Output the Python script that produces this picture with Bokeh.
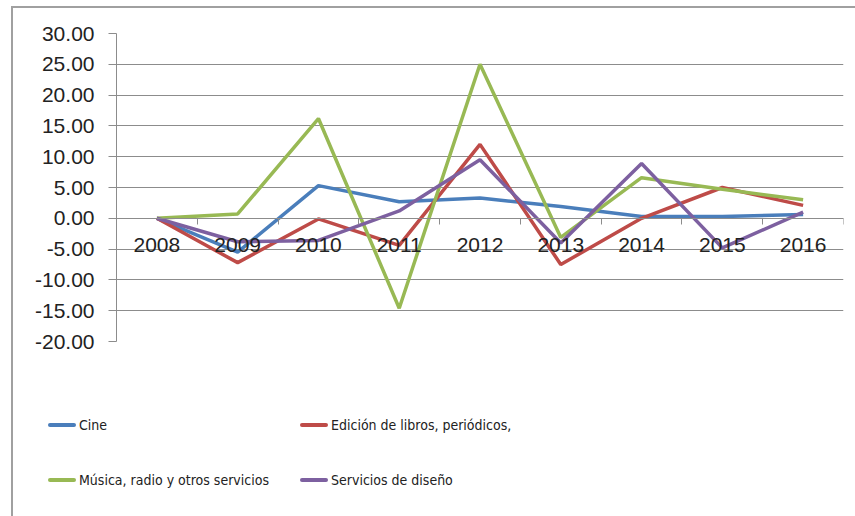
from bokeh.plotting import figure
from bokeh.layouts import column
from bokeh.models import (Range1d, LinearAxis, FixedTicker, NumeralTickFormatter, Div)
from bokeh.embed import file_html
from bokeh.resources import INLINE

years = ["2008", "2009", "2010", "2011", "2012", "2013", "2014", "2015", "2016"]
cine = [0.0, -5.5, 5.3, 2.7, 3.3, 1.9, 0.3, 0.3, 0.6]
edicion = [0.0, -7.2, -0.1, -4.4, 12.0, -7.5, 0.0, 5.0, 2.1]
musica = [0.0, 0.7, 16.2, -14.6, 25.0, -3.1, 6.6, 4.7, 3.0]
diseno = [0.0, -3.8, -3.6, 1.2, 9.5, -4.0, 8.9, -4.8, 1.0]

labels = ["Cine", "Edición de libros, periódicos,", "Música, radio y otros servicios", "Servicios de diseño"]
colors = ["#4A7EBB", "#BE4B48", "#98B954", "#7D60A0"]
series = [cine, edicion, musica, diseno]
y_ticks = [-20, -15, -10, -5, 0, 5, 10, 15, 20, 25, 30]

GRID = "#8c8c8c"
FONT = "Liberation Sans"

n = len(years)
xpos = [i + 0.5 for i in range(n)]          # band centres for each year
bounds = list(range(n + 1))                  # band boundaries

p = figure(x_range=Range1d(0, n), y_range=Range1d(-20, 30),
           width=842, height=403,
           min_border_left=103, min_border_right=12, min_border_top=25, min_border_bottom=70,
           output_backend="svg", toolbar_location=None, x_axis_type=None)
p.outline_line_color = None
p.background_fill_color = "white"
p.border_fill_color = "white"
p.xgrid.grid_line_color = None
p.ygrid.grid_line_color = GRID
p.ygrid.ticker = FixedTicker(ticks=y_ticks)

# y axis
ya = p.yaxis[0]
ya.ticker = FixedTicker(ticks=y_ticks)
ya.formatter = NumeralTickFormatter(format="0.00")
ya.axis_line_color = GRID
ya.major_tick_line_color = GRID
ya.major_tick_out = 8
ya.major_tick_in = 0
ya.minor_tick_line_color = None
ya.major_label_standoff = 14
ya.major_label_text_font = FONT
ya.major_label_text_font_size = "21px"
ya.major_label_text_color = "#222222"

# axis line with boundary ticks at y = 0
na = LinearAxis(ticker=FixedTicker(ticks=bounds), fixed_location=0)
na.axis_line_color = GRID
na.major_tick_line_color = GRID
na.major_tick_out = 6
na.major_tick_in = 0
na.minor_tick_line_color = None
na.major_label_text_font_size = "0px"
na.major_label_text_alpha = 0
na.major_label_standoff = 0
p.add_layout(na, "below")

# year labels at band centres
ca = LinearAxis(ticker=FixedTicker(ticks=xpos), fixed_location=0,
                major_label_overrides={x: y for x, y in zip(xpos, years)})
ca.axis_line_color = None
ca.major_tick_line_color = None
ca.minor_tick_line_color = None
ca.major_tick_out = 0
ca.major_tick_in = 0
ca.major_label_standoff = 20
ca.major_label_text_font = FONT
ca.major_label_text_font_size = "21px"
ca.major_label_text_color = "#222222"
p.add_layout(ca, "below")

for vals, col in zip(series, colors):
    p.line(x=xpos, y=vals, line_color=col, line_width=3.5)

# legend below the plot: two columns, two rows
slots = [(35, 4), (287, 4), (35, 59), (287, 59)]
items_html = ""
for lab, col, (lx, ty) in zip(labels, colors, slots):
    items_html += (
        f'<div style="position:absolute;left:{lx}px;top:{ty}px;height:20px;'
        f'display:flex;align-items:center;white-space:nowrap">'
        f'<span style="display:inline-block;width:28px;height:4px;background:{col};'
        f'border-radius:2px"></span>'
        f'<span style="margin-left:3px">{lab}</span></div>'
    )
legend_div = Div(
    text=(f'<div style="position:relative;width:842px;height:105px;'
          f"font-family:'DejaVu Sans Condensed','Liberation Sans Narrow','Liberation Sans',sans-serif;"
          f'font-size:14px;color:#222222">{items_html}</div>'),
    width=842, height=105, margin=0)

layout = column(p, legend_div, spacing=0, margin=(6, 0, 0, 11),
                styles={"border-left": "2px solid #a0a0a0", "border-top": "2px solid #a0a0a0"})

open("out.html", "w").write(file_html(layout, INLINE))
